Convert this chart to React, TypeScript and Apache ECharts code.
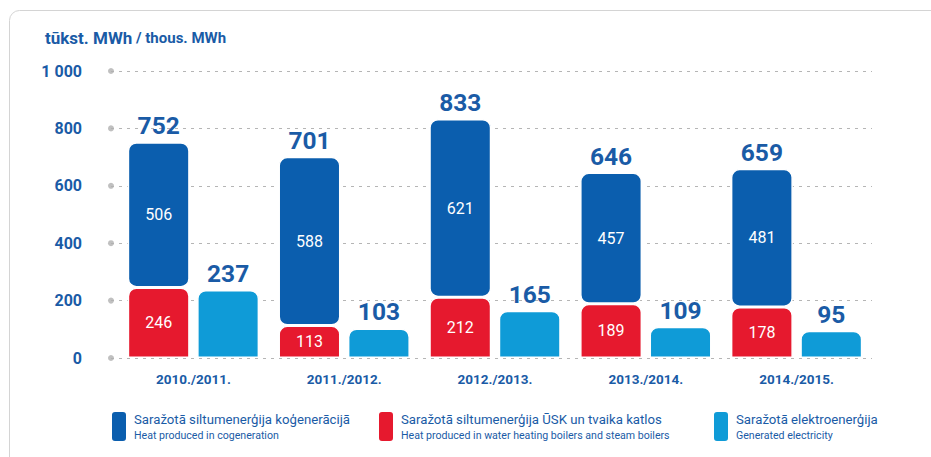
import React, { useEffect, useRef } from "react";
import * as echarts from "echarts";

const categories = ["2010./2011.", "2011./2012.", "2012./2013.", "2013./2014.", "2014./2015."];
const cogeneration = [506, 588, 621, 457, 481];
const boilers = [246, 113, 212, 189, 178];
const totals = [752, 701, 833, 646, 659];
const electricity = [237, 103, 165, 109, 95];
const yTickValues = [0, 200, 400, 600, 800, 1000];
const yTickLabels = ["0", "200", "400", "600", "800", "1 000"];
const seriesNamesLv = [
  "Saražotā siltumenerģija koģenerācijā",
  "Saražotā siltumenerģija ŪSK un tvaika katlos",
  "Saražotā elektroenerģija",
];
const seriesNamesEn = [
  "Heat produced in cogeneration",
  "Heat produced in water heating boilers and steam boilers",
  "Generated electricity",
];

const FONT = "Roboto, 'Liberation Sans', sans-serif";
const BLUE_TEXT = "#1a5ba6";
const DARK_BLUE = "#0b5eae";
const RED = "#e6192e";
const LIGHT_BLUE = "#0f9bd7";

export default function App() {
  const ref = useRef<HTMLDivElement>(null);
  useEffect(() => {
    if (!ref.current) return;
    const chart = echarts.init(ref.current, null, { renderer: "svg" });
    const legendItem = (i: number, left: number) => ({
      left,
      top: 410,
      padding: 0,
      icon: "roundRect",
      itemWidth: 16,
      itemHeight: 31,
      itemGap: 6,
      selectedMode: false,
      data: [seriesNamesLv[i]],
      formatter: (name: string) => `{a|${name}}\n{b|${seriesNamesEn[seriesNamesLv.indexOf(name)]}}`,
      textStyle: {
        padding: [0, 0, 0, 2],
        rich: {
          a: { fontFamily: FONT, fontSize: 13.2, color: BLUE_TEXT, lineHeight: 18 },
          b: { fontFamily: FONT, fontSize: 10.6, color: BLUE_TEXT, lineHeight: 15 },
        },
      },
    });
    const option: any = {
      animation: false,
      backgroundColor: "#fff",
      title: {
        left: 45,
        top: 29,
        padding: 0,
        text: "{a|tūkst. MWh}{b| / thous. MWh}",
        textStyle: {
          rich: {
            a: { fontFamily: FONT, fontSize: 17, fontWeight: "bold", color: BLUE_TEXT },
            b: { fontFamily: FONT, fontSize: 15, color: BLUE_TEXT },
          },
        },
      },
      graphic: [
        {
          type: "rect",
          silent: true,
          z: -10,
          shape: { x: 9.5, y: 10.5, width: 1000, height: 600, r: 10 },
          style: { fill: "none", stroke: "#d4d4d4", lineWidth: 1 },
        },
      ],
      legend: [legendItem(0, 110), legendItem(1, 377), legendItem(2, 712)],
      grid: [
        { left: 111, right: 59, top: 71, bottom: 99 },
        { left: 118, right: 59, top: 71, bottom: 99 },
      ],
      xAxis: [
        { gridIndex: 0, type: "value", min: 0, max: 1, show: false },
        {
          gridIndex: 1,
          type: "category",
          data: categories,
          axisTick: { show: false },
          axisLine: {
            lineStyle: {
              color: "#e2e2e2",
              width: 2,
              shadowColor: "rgba(0,0,0,0.12)",
              shadowBlur: 3,
              shadowOffsetY: 2,
            },
          },
          axisLabel: {
            margin: 14,
            fontFamily: FONT,
            fontSize: 13.5,
            fontWeight: "bold",
            color: BLUE_TEXT,
          },
        },
      ],
      yAxis: [
        {
          gridIndex: 0,
          type: "value",
          min: 0,
          max: 1000,
          interval: 200,
          axisLine: { show: false },
          axisTick: { show: false },
          axisLabel: {
            margin: 29,
            fontFamily: FONT,
            fontSize: 16,
            fontWeight: "bold",
            color: BLUE_TEXT,
            formatter: (v: number) => yTickLabels[yTickValues.indexOf(v)],
          },
          splitLine: {
            lineStyle: { color: "#b5b5b5", type: [3, 5], width: 1 },
          },
        },
        { gridIndex: 1, type: "value", min: 0, max: 1000, show: false, splitLine: { show: false } },
      ],
      series: [
        {
          type: "scatter",
          xAxisIndex: 0,
          yAxisIndex: 0,
          clip: false,
          silent: true,
          symbolSize: 6,
          itemStyle: { color: "#b0b0b0" },
          data: yTickValues.map((v) => [0, v]),
          z: 1,
        },
        {
          name: seriesNamesLv[1],
          type: "bar",
          xAxisIndex: 1,
          yAxisIndex: 1,
          stack: "heat",
          barWidth: 62,
          data: boilers,
          itemStyle: { color: RED, borderRadius: [8, 8, 0, 0], borderColor: "#fff", borderWidth: 1.5 },
          label: {
            show: true,
            position: "inside",
            color: "#fff",
            fontFamily: FONT,
            fontSize: 16,
          },
          z: 3,
        },
        {
          name: seriesNamesLv[0],
          type: "bar",
          xAxisIndex: 1,
          yAxisIndex: 1,
          stack: "heat",
          barWidth: 62,
          data: cogeneration,
          itemStyle: { color: DARK_BLUE, borderRadius: 8, borderColor: "#fff", borderWidth: 1.5 },
          label: {
            show: true,
            position: "inside",
            color: "#fff",
            fontFamily: FONT,
            fontSize: 16,
          },
          z: 3,
        },
        {
          name: "total",
          type: "bar",
          xAxisIndex: 1,
          yAxisIndex: 1,
          stack: "heat",
          barWidth: 62,
          data: totals.map(() => 0),
          itemStyle: { color: "transparent" },
          label: {
            show: true,
            position: "top",
            distance: 4,
            color: BLUE_TEXT,
            fontFamily: FONT,
            fontSize: 24.5,
            fontWeight: "bold",
            formatter: (p: any) => String(totals[p.dataIndex]),
          },
          z: 3,
        },
        {
          name: seriesNamesLv[2],
          type: "bar",
          xAxisIndex: 1,
          yAxisIndex: 1,
          barWidth: 62,
          barGap: "12%",
          data: electricity,
          itemStyle: { color: LIGHT_BLUE, borderRadius: [8, 8, 0, 0], borderColor: "#fff", borderWidth: 1.5 },
          label: {
            show: true,
            position: "top",
            distance: 4,
            color: BLUE_TEXT,
            fontFamily: FONT,
            fontSize: 24.5,
            fontWeight: "bold",
          },
          z: 3,
        },
      ],
    };
    chart.setOption(option);
    return () => chart.dispose();
  }, []);
  return (
    <div
      ref={ref}
      style={{ position: "fixed", left: 0, top: 0, width: 931, height: 457, background: "#fff" }}
    />
  );
}
